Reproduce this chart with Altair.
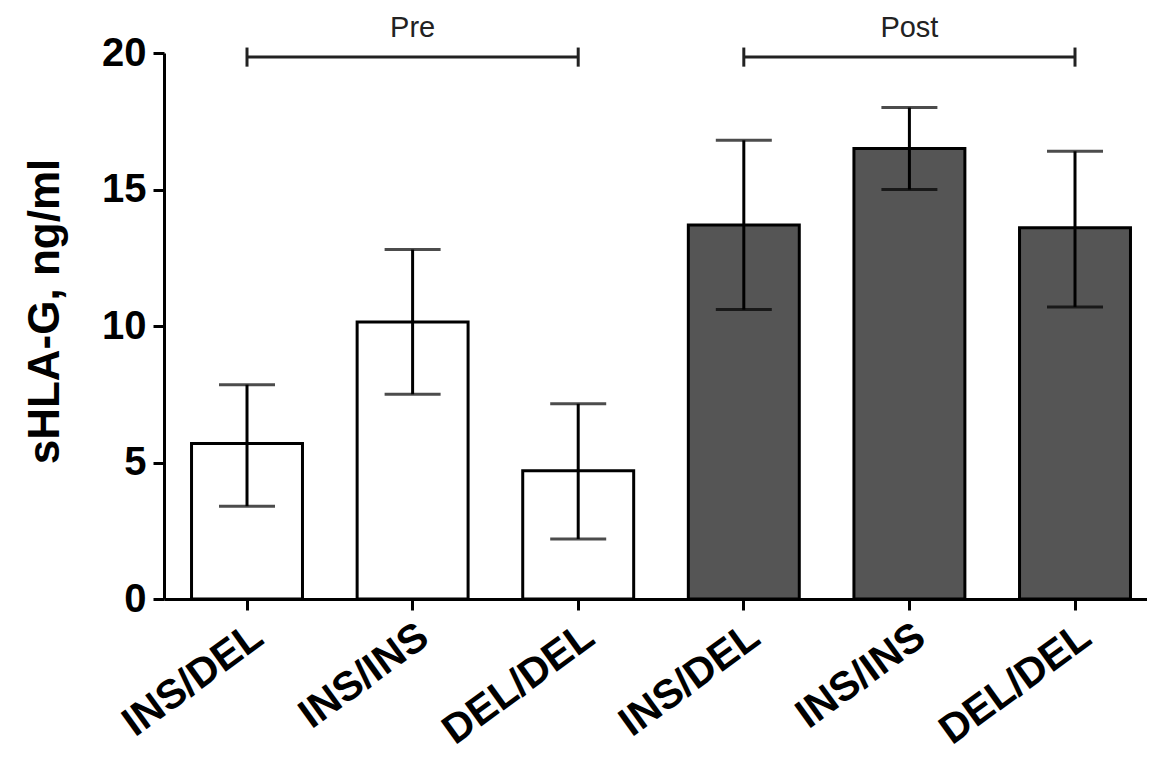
import altair as alt
import pandas as pd

# ---- data ----
groups = ["Pre", "Pre", "Pre", "Post", "Post", "Post"]
genotypes = ["INS/DEL", "INS/INS", "DEL/DEL", "INS/DEL", "INS/INS", "DEL/DEL"]
means = [5.7, 10.15, 4.7, 13.7, 16.5, 13.6]
err_low = [3.4, 7.5, 2.2, 10.6, 15.0, 10.7]
err_high = [7.85, 12.8, 7.15, 16.8, 18.0, 16.4]

bracket_labels = ["Pre", "Post"]
bracket_start = ["Pre|INS/DEL", "Post|INS/DEL"]
bracket_end = ["Pre|DEL/DEL", "Post|DEL/DEL"]
bracket_y = [19.85, 19.85]
bracket_cap_lo = [19.5, 19.5]
bracket_cap_hi = [20.2, 20.2]
label_y = [20.9, 20.9]
label_pos = ["Pre|INS/INS", "Post|INS/INS"]

keys = [f"{g}|{t}" for g, t in zip(groups, genotypes)]
df = pd.DataFrame({"key": keys, "group": groups, "mean": means,
                   "lo": err_low, "hi": err_high})
br = pd.DataFrame({"label": bracket_labels, "start": bracket_start, "end": bracket_end,
                   "y": bracket_y, "clo": bracket_cap_lo, "chi": bracket_cap_hi,
                   "ly": label_y, "lpos": label_pos})

FONT = "Liberation Sans"

xscale = alt.Scale(domain=keys, paddingInner=0.33, paddingOuter=0.133, align=0.625)
yscale = alt.Scale(domain=[0, 20], nice=False)

x = alt.X("key:N", scale=xscale, sort=keys, title=None,
          axis=alt.Axis(labelExpr="split(datum.label, '|')[1]", labelAngle=324,
                        labelFont=FONT, labelFontSize=41, labelFontWeight="bold",
                        labelColor="black", domainColor="black", domainWidth=3,
                        tickColor="black", tickWidth=3, tickSize=11, labelPadding=6,
                        grid=False))
y = alt.Y("mean:Q", scale=yscale, title="sHLA-G, ng/ml",
          axis=alt.Axis(values=[0, 5, 10, 15, 20], labelFont=FONT, labelFontSize=40,
                        labelFontWeight="bold", labelColor="black", titleFont=FONT,
                        titleFontSize=44, titleFontWeight="bold", titleColor="black",
                        titlePadding=34, titleY=258, domainColor="black", domainWidth=3,
                        tickColor="black", tickWidth=3, tickSize=11, labelPadding=7,
                        grid=False))

bars = alt.Chart(df).mark_bar(stroke="black", strokeWidth=3).encode(
    x=x, y=y,
    color=alt.Color("group:N", scale=alt.Scale(domain=["Pre", "Post"],
                                                range=["white", "#555555"]), legend=None),
)

err = alt.Chart(df).mark_rule(color="black", strokeWidth=3).encode(
    x=alt.X("key:N", scale=xscale, sort=keys), y=alt.Y("lo:Q", scale=yscale), y2="hi:Q")
cap_lo = alt.Chart(df).mark_tick(color="black", thickness=3, size=56).encode(
    x=alt.X("key:N", scale=xscale, sort=keys), y=alt.Y("lo:Q", scale=yscale))
cap_hi = alt.Chart(df).mark_tick(color="black", thickness=3, size=56).encode(
    x=alt.X("key:N", scale=xscale, sort=keys), y=alt.Y("hi:Q", scale=yscale))

br_line = alt.Chart(br).mark_rule(color="#222222", strokeWidth=3).encode(
    x=alt.X("start:N", scale=xscale, sort=keys), x2="end:N",
    y=alt.Y("y:Q", scale=yscale))
br_cap1 = alt.Chart(br).mark_rule(color="#222222", strokeWidth=3).encode(
    x=alt.X("start:N", scale=xscale, sort=keys), y=alt.Y("clo:Q", scale=yscale), y2="chi:Q")
br_cap2 = alt.Chart(br).mark_rule(color="#222222", strokeWidth=3).encode(
    x=alt.X("end:N", scale=xscale, sort=keys), y=alt.Y("clo:Q", scale=yscale), y2="chi:Q")
br_text = alt.Chart(br).mark_text(font=FONT, fontSize=29, color="#222222",
                                  baseline="middle").encode(
    x=alt.X("lpos:N", scale=xscale, sort=keys), y=alt.Y("ly:Q", scale=yscale),
    text="label:N")

chart = alt.layer(bars, err, cap_lo, cap_hi, br_line, br_cap1, br_cap2, br_text).properties(
    width=983, height=546, background="white",
    padding={"left": 15, "top": 6, "right": 0, "bottom": 0}
).configure_view(strokeWidth=0, stroke="transparent").configure_axis(grid=False)

chart.save("out.html", embed_options={"renderer": "svg", "actions": False})
